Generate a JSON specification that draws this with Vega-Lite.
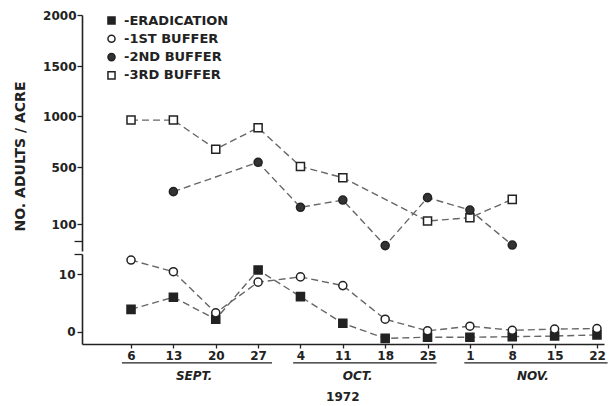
{
  "$schema": "https://vega.github.io/schema/vega-lite/v6.json",
  "background": "white",
  "padding": {"left": 13, "top": 9, "right": 5, "bottom": 0},
  "bounds": "flush",
  "spacing": 13,
  "datasets": {
    "upper": [
      {"date": "1972-09-06", "series": "3RD BUFFER", "n": 960},
      {"date": "1972-09-13", "series": "3RD BUFFER", "n": 960},
      {"date": "1972-09-20", "series": "3RD BUFFER", "n": 674},
      {"date": "1972-09-27", "series": "3RD BUFFER", "n": 885},
      {"date": "1972-10-04", "series": "3RD BUFFER", "n": 505},
      {"date": "1972-10-11", "series": "3RD BUFFER", "n": 425},
      {"date": "1972-10-25", "series": "3RD BUFFER", "n": 121},
      {"date": "1972-11-01", "series": "3RD BUFFER", "n": 144},
      {"date": "1972-11-08", "series": "3RD BUFFER", "n": 273},
      {"date": "1972-09-13", "series": "2ND BUFFER", "n": 327},
      {"date": "1972-09-27", "series": "2ND BUFFER", "n": 546},
      {"date": "1972-10-04", "series": "2ND BUFFER", "n": 217},
      {"date": "1972-10-11", "series": "2ND BUFFER", "n": 268},
      {"date": "1972-10-18", "series": "2ND BUFFER", "n": 20},
      {"date": "1972-10-25", "series": "2ND BUFFER", "n": 285},
      {"date": "1972-11-01", "series": "2ND BUFFER", "n": 198},
      {"date": "1972-11-08", "series": "2ND BUFFER", "n": 22}
    ],
    "lower": [
      {"date": "1972-09-06", "series": "ERADICATION", "n": 3.9},
      {"date": "1972-09-13", "series": "ERADICATION", "n": 6.0},
      {"date": "1972-09-20", "series": "ERADICATION", "n": 2.2},
      {"date": "1972-09-27", "series": "ERADICATION", "n": 10.7},
      {"date": "1972-10-04", "series": "ERADICATION", "n": 6.1},
      {"date": "1972-10-11", "series": "ERADICATION", "n": 1.5},
      {"date": "1972-10-18", "series": "ERADICATION", "n": -1.1},
      {"date": "1972-10-25", "series": "ERADICATION", "n": -0.9},
      {"date": "1972-11-01", "series": "ERADICATION", "n": -0.9},
      {"date": "1972-11-08", "series": "ERADICATION", "n": -0.8},
      {"date": "1972-11-15", "series": "ERADICATION", "n": -0.7},
      {"date": "1972-11-22", "series": "ERADICATION", "n": -0.5},
      {"date": "1972-09-06", "series": "1ST BUFFER", "n": 12.4},
      {"date": "1972-09-13", "series": "1ST BUFFER", "n": 10.4},
      {"date": "1972-09-20", "series": "1ST BUFFER", "n": 3.3},
      {"date": "1972-09-27", "series": "1ST BUFFER", "n": 8.6},
      {"date": "1972-10-04", "series": "1ST BUFFER", "n": 9.5},
      {"date": "1972-10-11", "series": "1ST BUFFER", "n": 8.0},
      {"date": "1972-10-18", "series": "1ST BUFFER", "n": 2.2},
      {"date": "1972-10-25", "series": "1ST BUFFER", "n": 0.2},
      {"date": "1972-11-01", "series": "1ST BUFFER", "n": 1.0},
      {"date": "1972-11-08", "series": "1ST BUFFER", "n": 0.3},
      {"date": "1972-11-15", "series": "1ST BUFFER", "n": 0.5},
      {"date": "1972-11-22", "series": "1ST BUFFER", "n": 0.6}
    ],
    "months": [
      {"label": "SEPT.", "start": "1972-09-04T12:00:00Z", "end": "1972-09-29T07:00:00Z", "mid": "1972-09-16T10:00:00Z"},
      {"label": "OCT.", "start": "1972-10-02T19:00:00Z", "end": "1972-10-26T12:00:00Z", "mid": "1972-10-13T11:00:00Z"},
      {"label": "NOV.", "start": "1972-10-31T02:00:00Z", "end": "1972-11-23T18:00:00Z", "mid": "1972-11-11T10:00:00Z"}
    ],
    "year": [
      {"label": "1972", "mid": "1972-10-11T00:00:00Z"}
    ]
  },
  "resolve": {"scale": {"shape": "independent", "fill": "independent", "stroke": "independent"}, "legend": {"shape": "independent", "fill": "independent", "stroke": "independent"}},
  "vconcat": [
    {
      "width": 522,
      "height": 226,
      "data": {"name": "upper"},
      "layer": [
        {
          "mark": {"type": "line", "stroke": "#666", "strokeWidth": 1.4, "strokeDash": [7, 4]},
          "encoding": {
            "x": {"field": "date", "type": "temporal", "scale": {"type": "utc", "domain": [{"year": 1972, "month": 8, "date": 28, "hours": 21, "minutes": 36, "utc": true}, {"year": 1972, "month": 11, "date": 23, "hours": 3, "minutes": 50, "utc": true}]}, "axis": null},
            "y": {
              "field": "n", "type": "quantitative",
              "scale": {"domain": [0, 100, 500, 1000, 1500, 2000], "range": [236, 209, 152, 101, 51, 0], "nice": false, "zero": false},
              "axis": {
                "values": [37, 100, 500, 1000, 1500, 2000],
                "format": "d",
                "labelExpr": "datum.value < 50 ? '' : datum.label",
                "tickSize": {"condition": {"test": "datum.value < 50", "value": 8}, "value": 5},
                "labelPadding": 1,
                "title": "NO.   ADULTS   /   ACRE",
                "titleFontSize": 14,
                "titleFontWeight": "bold",
                "titleColor": "#222",
                "titleX": -62,
                "titleY": 141,
                "titleAlign": "center",
                "titleBaseline": "middle",
                "titleAngle": -90
              }
            },
            "detail": {"field": "series"}
          }
        },
        {
          "mark": {"type": "point", "strokeWidth": 1.5, "opacity": 1, "size": 65},
          "encoding": {
            "x": {"field": "date", "type": "temporal"},
            "y": {"field": "n", "type": "quantitative"},
            "shape": {"field": "series", "type": "nominal",
              "scale": {"domain": ["ERADICATION", "1ST BUFFER", "2ND BUFFER", "3RD BUFFER"], "range": ["square", "circle", "circle", "square"]},
              "legend": {"orient": "none", "legendX": 23, "legendY": -1, "title": null, "labelExpr": "'-' + datum.label", "labelFont": "DejaVu Sans", "labelFontWeight": "bold", "labelFontSize": 13, "labelColor": "#222", "symbolSize": 50, "symbolStrokeWidth": 1.5, "rowPadding": 3.3, "labelOffset": 6, "padding": 0}},
            "fill": {"field": "series", "type": "nominal",
              "scale": {"domain": ["ERADICATION", "1ST BUFFER", "2ND BUFFER", "3RD BUFFER"], "range": ["#222", "#ffffff", "#333", "#ffffff"]},
              "legend": {"orient": "none", "legendX": 23, "legendY": -1, "title": null, "labelExpr": "'-' + datum.label", "labelFont": "DejaVu Sans", "labelFontWeight": "bold", "labelFontSize": 13, "labelColor": "#222", "symbolSize": 50, "symbolStrokeWidth": 1.5, "rowPadding": 3.3, "labelOffset": 6, "padding": 0}},
            "stroke": {"field": "series", "type": "nominal",
              "scale": {"domain": ["ERADICATION", "1ST BUFFER", "2ND BUFFER", "3RD BUFFER"], "range": ["#222", "#222", "#222", "#222"]},
              "legend": {"orient": "none", "legendX": 23, "legendY": -1, "title": null, "labelExpr": "'-' + datum.label", "labelFont": "DejaVu Sans", "labelFontWeight": "bold", "labelFontSize": 13, "labelColor": "#222", "symbolSize": 50, "symbolStrokeWidth": 1.5, "rowPadding": 3.3, "labelOffset": 6, "padding": 0}}
          }
        }
      ]
    },
    {
      "width": 522,
      "height": 90,
      "data": {"name": "lower"},
      "layer": [
        {
          "mark": {"type": "line", "stroke": "#666", "strokeWidth": 1.4, "strokeDash": [7, 4]},
          "encoding": {
            "x": {"field": "date", "type": "temporal", "scale": {"type": "utc", "domain": [{"year": 1972, "month": 8, "date": 28, "hours": 21, "minutes": 36, "utc": true}, {"year": 1972, "month": 11, "date": 23, "hours": 3, "minutes": 50, "utc": true}]},
              "axis": {
                "values": [
                  {"year": 1972, "month": 9, "date": 6, "utc": true},
                  {"year": 1972, "month": 9, "date": 13, "utc": true},
                  {"year": 1972, "month": 9, "date": 20, "utc": true},
                  {"year": 1972, "month": 9, "date": 27, "utc": true},
                  {"year": 1972, "month": 10, "date": 4, "utc": true},
                  {"year": 1972, "month": 10, "date": 11, "utc": true},
                  {"year": 1972, "month": 10, "date": 18, "utc": true},
                  {"year": 1972, "month": 10, "date": 25, "utc": true},
                  {"year": 1972, "month": 11, "date": 1, "utc": true},
                  {"year": 1972, "month": 11, "date": 8, "utc": true},
                  {"year": 1972, "month": 11, "date": 15, "utc": true},
                  {"year": 1972, "month": 11, "date": 22, "utc": true}
                ],
                "format": "%-d",
                "title": null,
                "tickSize": 4,
                "labelPadding": 2,
                "labelFlush": false,
                "labelOverlap": false
              }
            },
            "y": {
              "field": "n", "type": "quantitative",
              "scale": {"domain": [-2.07, 13.45], "nice": false, "zero": false},
              "axis": {
                "values": [0, 10, 13.45],
                "format": "d",
                "labelExpr": "datum.value > 11 ? '' : datum.label",
                "tickSize": {"condition": {"test": "datum.value > 11", "value": 8}, "value": 5},
                "labelPadding": 2,
                "title": null
              }
            },
            "detail": {"field": "series"}
          }
        },
        {
          "mark": {"type": "point", "stroke": "#222", "strokeWidth": 1.5, "opacity": 1, "size": 65},
          "encoding": {
            "x": {"field": "date", "type": "temporal"},
            "y": {"field": "n", "type": "quantitative"},
            "shape": {"field": "series", "type": "nominal",
              "scale": {"domain": ["ERADICATION", "1ST BUFFER", "2ND BUFFER", "3RD BUFFER"], "range": ["square", "circle", "circle", "square"]},
              "legend": null},
            "fill": {"field": "series", "type": "nominal",
              "scale": {"domain": ["ERADICATION", "1ST BUFFER", "2ND BUFFER", "3RD BUFFER"], "range": ["#222", "#ffffff", "#333", "#ffffff"]},
              "legend": null}
          }
        }
      ]
    },
    {
      "width": 522,
      "height": 45,
      "layer": [
        {
          "data": {"name": "months"},
          "mark": {"type": "rule", "stroke": "#222", "strokeWidth": 1.3},
          "encoding": {
            "x": {"field": "start", "type": "temporal", "scale": {"type": "utc", "domain": [{"year": 1972, "month": 8, "date": 28, "hours": 21, "minutes": 36, "utc": true}, {"year": 1972, "month": 11, "date": 23, "hours": 3, "minutes": 50, "utc": true}]}, "axis": null},
            "x2": {"field": "end"},
            "y": {"datum": 0.53, "type": "quantitative", "scale": {"domain": [0, 4], "reverse": true, "nice": false, "zero": false}, "axis": null}
          }
        },
        {
          "data": {"name": "months"},
          "mark": {"type": "text", "font": "DejaVu Sans", "fontWeight": "bold", "fontStyle": "italic", "fontSize": 12, "color": "#222", "baseline": "middle", "align": "center"},
          "encoding": {
            "x": {"field": "mid", "type": "temporal"},
            "y": {"datum": 1.69, "type": "quantitative"},
            "text": {"field": "label"}
          }
        },
        {
          "data": {"name": "year"},
          "mark": {"type": "text", "font": "DejaVu Sans", "fontWeight": "bold", "fontSize": 12, "color": "#222", "baseline": "middle", "align": "center"},
          "encoding": {
            "x": {"field": "mid", "type": "temporal"},
            "y": {"datum": 3.56, "type": "quantitative"},
            "text": {"field": "label"}
          }
        }
      ]
    }
  ],
  "config": {
    "font": "DejaVu Sans",
    "view": {"stroke": null},
    "axis": {
      "labelFont": "DejaVu Sans",
      "labelFontWeight": "bold",
      "labelFontSize": 12,
      "labelColor": "#222",
      "domainColor": "#222",
      "domainWidth": 1.6,
      "tickColor": "#222",
      "tickWidth": 1.3,
      "grid": false,
      "titleFont": "DejaVu Sans"
    }
  }
}
